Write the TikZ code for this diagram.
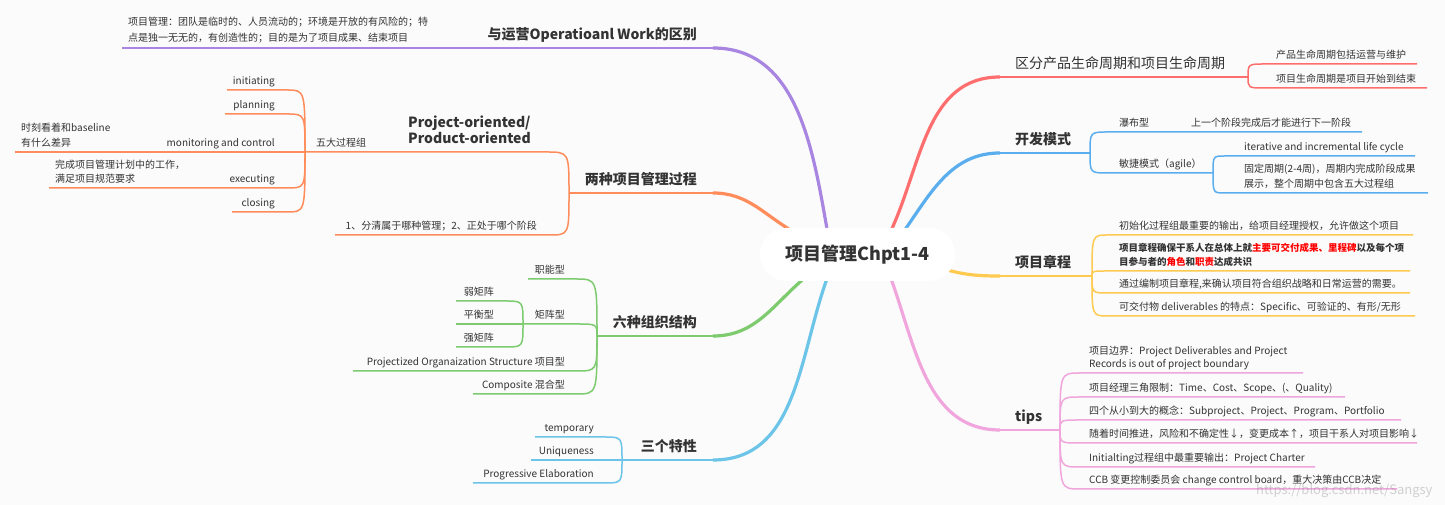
\documentclass[tikz,border=0pt]{standalone}
\usepackage{fontspec}
\setmainfont{Noto Sans CJK SC}
\usetikzlibrary{positioning,backgrounds}
\definecolor{ink}{HTML}{333333}
\definecolor{paper}{HTML}{FBFBFB}
\definecolor{purp}{HTML}{A885E0}
\definecolor{orng}{HTML}{FF8C5A}
\definecolor{grn}{HTML}{7DCB6E}
\definecolor{sky}{HTML}{6CC5E8}
\definecolor{rose}{HTML}{FF6E6E}
\definecolor{blu}{HTML}{5AAEEE}
\definecolor{gold}{HTML}{FFCA50}
\definecolor{pinkish}{HTML}{F0A6DD}
\definecolor{hot}{HTML}{FF0000}

\begin{document}
\begin{tikzpicture}[x=1pt,y=1pt,line cap=round,
	lbl/.style={font=\fontsize{10}{15}\selectfont, text=ink, inner sep=0pt},
	big/.style={font=\fontsize{14}{16}\selectfont\bfseries, text=ink, inner sep=0pt},
	trunk/.style={line width=3.2pt},
	bar/.style={line width=2pt},
	twig/.style={line width=1.5pt},
	kid/.style={to path={.. controls (\tikztostart |- \tikztotarget) .. (\tikztotarget)}},
	]

	\node[fill=white, rounded corners=26pt, minimum width=195pt, minimum height=53pt, font=\fontsize{18}{20}\selectfont\bfseries, text=ink] (c) at (857.5,250.5) {项目管理Chpt1-4};

	% left side
	\coordinate (opE) at (713,457);
	\coordinate (opJ) at (450,457);
	\coordinate (opW) at (122,457);
	\node[big, anchor=base east] (opL) at (697,465) {与运营Operatioanl Work的区别};
	\node[lbl, anchor=base west, align=left, font=\fontsize{10}{16}\selectfont] (opC) at (128,463) {项目管理：团队是临时的、人员流动的；环境是开放的有风险的；特\\点是独一无无的，有创造性的；目的是为了项目成果、结束项目};

	\coordinate (twE) at (713,312);
	\coordinate (twJ) at (569,312);
	\node[big, anchor=base east] (twL) at (697,320) {两种项目管理过程};
	\coordinate (poE) at (546,353);
	\coordinate (fJ) at (305,353);
	\node[big, anchor=base west, align=left] (poL) at (408,361) {Project-oriented/\\Product-oriented};
	\node[lbl, anchor=base west] (fL) at (316,358) {五大过程组};
	\coordinate (sepE) at (549,270);
	\coordinate (sepW) at (335,270);
	\node[lbl, anchor=base east] (sepL) at (537,275) {1、分清属于哪种管理；2、正处于哪个阶段};

	\coordinate (iniE) at (287,415);
	\coordinate (iniW) at (227,415);
	\node[lbl, anchor=base east] (iniL) at (275,420) {initiating};
	\coordinate (plaE) at (287,391);
	\coordinate (plaW) at (225,391);
	\node[lbl, anchor=base east] (plaL) at (275,396) {planning};
	\coordinate (monJ) at (155,353);
	\coordinate (monW) at (15,353);
	\node[lbl, anchor=base east] (monL) at (275,358) {monitoring and control};
	\node[lbl, anchor=base west, align=left] (monC) at (21,358) {时刻看着和baseline\\有什么差异};
	\coordinate (exeE) at (287,317);
	\coordinate (exeJ) at (215,317);
	\coordinate (exeW) at (49,317);
	\node[lbl, anchor=base east] (exeL) at (275,322) {executing};
	\node[lbl, anchor=base west, align=left, font=\fontsize{10}{14}\selectfont] (exeC) at (55,322) {完成项目管理计划中的工作，\\满足项目规范要求};
	\coordinate (cloE) at (287,293);
	\coordinate (cloW) at (232,293);
	\node[lbl, anchor=base east] (cloL) at (275,298) {closing};

	\coordinate (orE) at (713,169);
	\coordinate (orJ) at (597,169);
	\node[big, anchor=base east] (orL) at (697,177) {六种组织结构};
	\coordinate (znE) at (576,226);
	\coordinate (znW) at (528,226);
	\node[lbl, anchor=base east] (znL) at (565,231) {职能型};
	\coordinate (jzE) at (576,181);
	\coordinate (jzJ) at (523,181);
	\node[lbl, anchor=base east] (jzL) at (565,186) {矩阵型};
	\coordinate (rjE) at (505,204);
	\coordinate (rjW) at (456,204);
	\node[lbl, anchor=base east] (rjL) at (494,209) {弱矩阵};
	\coordinate (phW) at (456,181);
	\node[lbl, anchor=base east] (phL) at (494,186) {平衡型};
	\coordinate (qjE) at (505,158);
	\coordinate (qjW) at (456,158);
	\node[lbl, anchor=base east] (qjL) at (494,163) {强矩阵};
	\coordinate (pjE) at (576,134);
	\coordinate (pjW) at (353,134);
	\node[lbl, anchor=base east] (pjL) at (565,139) {Projectized Organaization Structure 项目型};
	\coordinate (cpE) at (576,111);
	\coordinate (cpW) at (473,111);
	\node[lbl, anchor=base east] (cpL) at (565,116) {Composite 混合型};

	\coordinate (tsE) at (713,45);
	\coordinate (tsJ) at (622,45);
	\node[big, anchor=base east] (tsL) at (697,53) {三个特性};
	\coordinate (tmE) at (604,68);
	\coordinate (tmW) at (535,68);
	\node[lbl, anchor=base east] (tmL) at (594,73) {temporary};
	\coordinate (unW) at (531,45);
	\node[lbl, anchor=base east] (unL) at (594,50) {Uniqueness};
	\coordinate (pgE) at (604,22);
	\coordinate (pgW) at (473,22);
	\node[lbl, anchor=base east] (pgL) at (594,27) {Progressive Elaboration};

	% right side
	\coordinate (cyE) at (1000,428);
	\coordinate (cyJ) at (1248,428);
	\node[lbl, anchor=base west, font=\fontsize{14}{16}\selectfont] (cyL) at (1015,436) {区分产品生命周期和项目生命周期};
	\coordinate (plE) at (1265,441);
	\coordinate (plW) at (1417,441);
	\node[lbl, anchor=base west] (plL) at (1276,446) {产品生命周期包括运营与维护};
	\coordinate (xmE) at (1265,417);
	\coordinate (xmW) at (1427,417);
	\node[lbl, anchor=base west] (xmL) at (1276,422) {项目生命周期是项目开始到结束};

	\coordinate (kfE) at (1000,352);
	\coordinate (kfJ) at (1090,352);
	\node[big, anchor=base west] (kfL) at (1015,360) {开发模式};
	\coordinate (pbE) at (1108,373);
	\coordinate (pbJ) at (1180,373);
	\coordinate (pbW) at (1362,373);
	\node[lbl, anchor=base west] (pbL) at (1119,378) {瀑布型};
	\node[lbl, anchor=base west] (pbC) at (1191,378) {上一个阶段完成后才能进行下一阶段};
	\coordinate (mjE) at (1108,332);
	\coordinate (mjJ) at (1213,332);
	\node[lbl, anchor=base west] (mjL) at (1119,337) {敏捷模式（agile）};
	\coordinate (itE) at (1225,349);
	\coordinate (itW) at (1415,349);
	\node[lbl, anchor=base west] (itL) at (1244,354) {iterative and incremental life cycle};
	\coordinate (gdE) at (1225,312);
	\coordinate (gdW) at (1428,312);
	\node[lbl, anchor=base west, align=left] (gdL) at (1244,317) {固定周期(2-4周)，周期内完成阶段成果\\展示，整个周期中包含五大过程组};

	\coordinate (zcE) at (1000,229);
	\coordinate (zcJ) at (1092,229);
	\node[big, anchor=base west] (zcL) at (1015,237) {项目章程};
	\coordinate (c1E) at (1108,270);
	\coordinate (c1W) at (1413,270);
	\node[lbl, anchor=base west] (c1L) at (1119,275) {初始化过程组最重要的输出，给项目经理授权，允许做这个项目};
	\coordinate (c2E) at (1108,234);
	\coordinate (c2W) at (1410,234);
	\node[lbl, anchor=base west, align=left, font=\fontsize{9.5}{14}\selectfont\bfseries] (c2L) at (1119,239) {项目章程确保干系人在总体上就{\color{hot}主要可交付成果、里程碑}以及每个项\\目参与者的{\color{hot}角色}和{\color{hot}职责}达成共识};
	\coordinate (c3E) at (1108,212);
	\coordinate (c3W) at (1410,212);
	\node[lbl, anchor=base west] (c3L) at (1119,217) {通过编制项目章程,来确认项目符合组织战略和日常运营的需要。};
	\coordinate (c4E) at (1108,189);
	\coordinate (c4W) at (1415,189);
	\node[lbl, anchor=base west] (c4L) at (1119,194) {可交付物 deliverables 的特点：Specific、可验证的、有形/无形};

	\coordinate (tpE) at (1000,75);
	\coordinate (tpJ) at (1060,75);
	\node[big, anchor=base west] (tpL) at (1015,83) {tips};
	\coordinate (t1E) at (1080,132);
	\coordinate (t1W) at (1303,132);
	\node[lbl, anchor=base west, align=left, font=\fontsize{10}{13}\selectfont] (t1L) at (1089,137) {项目边界：Project Deliverables and Project\\Records is out of project boundary};
	\coordinate (t2E) at (1080,108);
	\coordinate (t2W) at (1345,108);
	\node[lbl, anchor=base west] (t2L) at (1089,113) {项目经理三角限制：Time、Cost、Scope、(、Quality)};
	\coordinate (t3E) at (1080,85);
	\coordinate (t3W) at (1401,85);
	\node[lbl, anchor=base west] (t3L) at (1089,90) {四个从小到大的概念：Subproject、Project、Program、Portfolio};
	\coordinate (t4E) at (1080,62);
	\coordinate (t4W) at (1417,62);
	\node[lbl, anchor=base west] (t4L) at (1089,67) {随着时间推进，风险和不确定性↓，变更成本↑，项目干系人对项目影响↓};
	\coordinate (t5E) at (1080,38);
	\coordinate (t5W) at (1315,38);
	\node[lbl, anchor=base west] (t5L) at (1089,43) {Initialting过程组中最重要输出：Project Charter};
	\coordinate (t6E) at (1080,16);
	\coordinate (t6W) at (1397,16);
	\node[lbl, anchor=base west] (t6L) at (1089,21) {CCB 变更控制委员会 change control board，重大决策由CCB决定};

	\node[font=\fontsize{13}{15}\selectfont, text=gray, opacity=0.35, anchor=base east] (wm) at (1436,10) {https://blog.csdn.net/Sangsy};

	\begin{scope}[on background layer]
	\fill[paper] (0,0) rectangle (1445,505);
	% purple
	\draw[purp, trunk] ([shift={(-30,-4)}]c.north) to[out=100,in=0] (opE);
	\draw[purp, bar] (opE) -- (opJ);
	\draw[purp, twig] (opJ) -- (opW);
	% orange
	\draw[orng, trunk] ([shift={(-64,-4)}]c.north) to[out=150,in=0] (twE);
	\draw[orng, bar] (twE) -- (twJ);
	\draw[orng, twig] (twJ) to[kid] (poE) -- (fJ);
	\draw[orng, twig] (twJ) to[kid] (sepE) -- (sepW);
	\draw[orng, twig] (fJ) to[kid] (iniE) -- (iniW);
	\draw[orng, twig] (fJ) to[kid] (plaE) -- (plaW);
	\draw[orng, twig] (fJ) -- (monJ) -- (monW);
	\draw[orng, twig] (fJ) to[kid] (exeE) -- (exeJ) -- (exeW);
	\draw[orng, twig] (fJ) to[kid] (cloE) -- (cloW);
	% green
	\draw[grn, trunk] ([shift={(-52,4)}]c.south) to[out=220,in=0] (orE);
	\draw[grn, bar] (orE) -- (orJ);
	\draw[grn, twig] (orJ) to[kid] (znE) -- (znW);
	\draw[grn, twig] (orJ) to[kid] (jzE) -- (jzJ);
	\draw[grn, twig] (jzJ) to[kid] (rjE) -- (rjW);
	\draw[grn, twig] (jzJ) -- (phW);
	\draw[grn, twig] (jzJ) to[kid] (qjE) -- (qjW);
	\draw[grn, twig] (orJ) to[kid] (pjE) -- (pjW);
	\draw[grn, twig] (orJ) to[kid] (cpE) -- (cpW);
	% sky
	\draw[sky, trunk] ([shift={(-30,4)}]c.south) to[out=250,in=0] (tsE);
	\draw[sky, bar] (tsE) -- (tsJ);
	\draw[sky, twig] (tsJ) to[kid] (tmE) -- (tmW);
	\draw[sky, twig] (tsJ) -- (unW);
	\draw[sky, twig] (tsJ) to[kid] (pgE) -- (pgW);
	% red
	\draw[rose, trunk] ([shift={(33,-4)}]c.north) to[out=65,in=180] (cyE);
	\draw[rose, bar] (cyE) -- (cyJ);
	\draw[rose, twig] (cyJ) to[kid] (plE) -- (plW);
	\draw[rose, twig] (cyJ) to[kid] (xmE) -- (xmW);
	% blue
	\draw[blu, trunk] ([shift={(46,-4)}]c.north) to[out=55,in=180] (kfE);
	\draw[blu, bar] (kfE) -- (kfJ);
	\draw[blu, twig] (kfJ) to[kid] (pbE) -- (pbJ) -- (pbW);
	\draw[blu, twig] (kfJ) to[kid] (mjE) -- (mjJ);
	\draw[blu, twig] (mjJ) to[kid] (itE) -- (itW);
	\draw[blu, twig] (mjJ) to[kid] (gdE) -- (gdW);
	% gold
	\draw[gold, trunk] ([shift={(-10,-15)}]c.east) to[out=-15,in=180] (zcE);
	\draw[gold, bar] (zcE) -- (zcJ);
	\draw[gold, twig] (zcJ) to[kid] (c1E) -- (c1W);
	\draw[gold, twig] (zcJ) to[kid] (c2E) -- (c2W);
	\draw[gold, twig] (zcJ) to[kid] (c3E) -- (c3W);
	\draw[gold, twig] (zcJ) to[kid] (c4E) -- (c4W);
	% pink
	\draw[pinkish, trunk] ([shift={(33,4)}]c.south) to[out=-70,in=180] (tpE);
	\draw[pinkish, bar] (tpE) -- (tpJ);
	\draw[pinkish, twig] (tpJ) to[kid] (t1E) -- (t1W);
	\draw[pinkish, twig] (tpJ) to[kid] (t2E) -- (t2W);
	\draw[pinkish, twig] (tpJ) to[kid] (t3E) -- (t3W);
	\draw[pinkish, twig] (tpJ) to[kid] (t4E) -- (t4W);
	\draw[pinkish, twig] (tpJ) to[kid] (t5E) -- (t5W);
	\draw[pinkish, twig] (tpJ) to[kid] (t6E) -- (t6W);
	\end{scope}
\end{tikzpicture}
\end{document}
